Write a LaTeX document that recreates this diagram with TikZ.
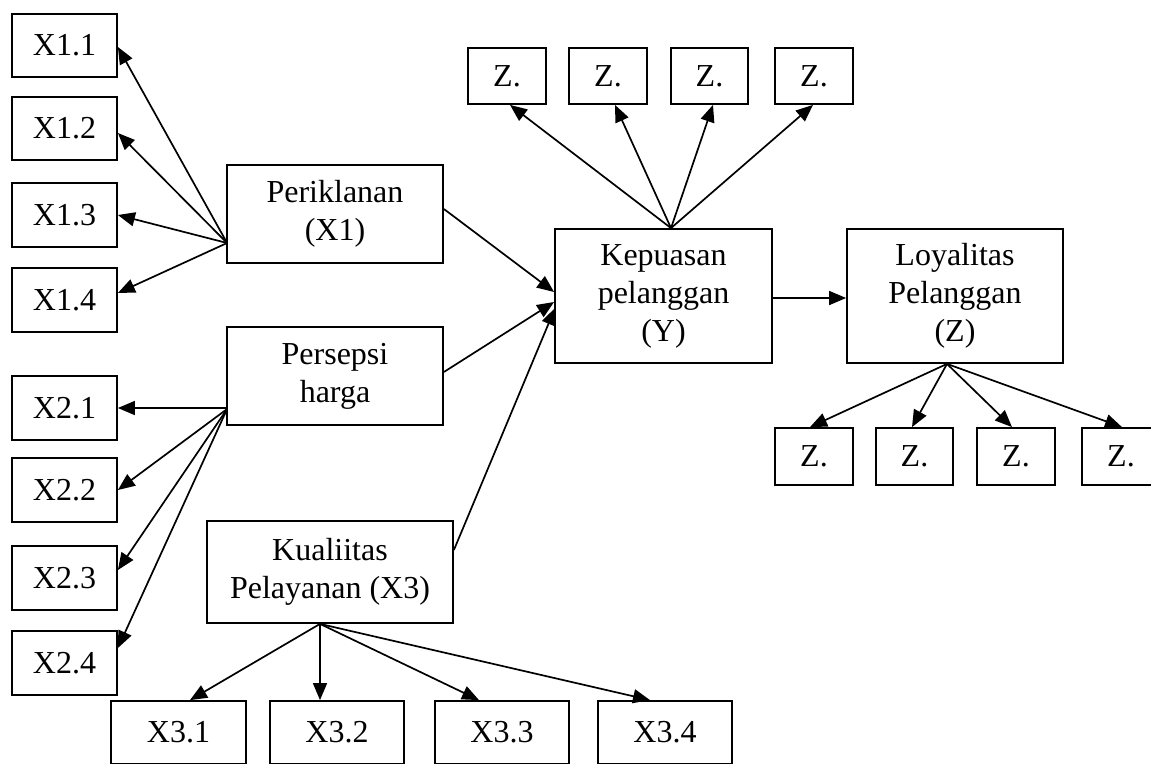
\documentclass[tikz,border=0pt]{standalone}
\usepackage{fontspec}
\setmainfont{Liberation Serif}
\usetikzlibrary{calc,arrows.meta}
\begin{document}
\begin{tikzpicture}[x=1pt,y=-1pt,
  box/.style={draw=black,line width=1.8pt,inner sep=0pt,align=center,font=\fontsize{32}{38}\selectfont},
  arr/.style={line width=1.7pt,-{Triangle[length=17pt,width=14pt]}}]
\useasboundingbox (0,0) rectangle (1151,763);
\clip (0,0) rectangle (1151,763);
\fill[white] (0,0) rectangle (1151,763);
% left X1 indicators
\node[box,minimum width=105pt,minimum height=63pt] (x11) at (64.5,45.5) {X1.1};
\node[box,minimum width=105pt,minimum height=63pt] (x12) at (64.5,128.5) {X1.2};
\node[box,minimum width=105pt,minimum height=64pt] (x13) at (64.5,215) {X1.3};
\node[box,minimum width=105pt,minimum height=64pt] (x14) at (64.5,300) {X1.4};
% X2 indicators
\node[box,minimum width=105pt,minimum height=64pt] (x21) at (64.5,408) {X2.1};
\node[box,minimum width=105pt,minimum height=64pt] (x22) at (64.5,490) {X2.2};
\node[box,minimum width=105pt,minimum height=64pt] (x23) at (64.5,578) {X2.3};
\node[box,minimum width=105pt,minimum height=64pt] (x24) at (64.5,663) {X2.4};
% latent variables
\node[box,minimum width=216pt,minimum height=98pt] (per) at (335,214) {Periklanan\\(X1)};
\node[box,minimum width=216pt,minimum height=98pt] (pers) at (335,376) {Persepsi\\harga};
\node[box,minimum width=246pt,minimum height=102pt] (kual) at (330,572) {Kualiitas\\Pelayanan (X3)};
\node[box,minimum width=217pt,minimum height=134pt] (kep) at (663.5,296) {Kepuasan\\pelanggan\\(Y)};
\node[box,minimum width=216pt,minimum height=134pt] (loy) at (955,296) {Loyalitas\\Pelanggan\\(Z)};
% X3 indicators
\node[box,minimum width=135pt,minimum height=63pt] (x31) at (178.5,732.5) {X3.1};
\node[box,minimum width=134pt,minimum height=63pt] (x32) at (337,732.5) {X3.2};
\node[box,minimum width=134pt,minimum height=63pt] (x33) at (502,732.5) {X3.3};
\node[box,minimum width=134pt,minimum height=63pt] (x34) at (665,732.5) {X3.4};
% Y indicators
\node[box,minimum width=78pt,minimum height=56pt] (zt1) at (507,76) {Z.};
\node[box,minimum width=78pt,minimum height=56pt] (zt2) at (608,76) {Z.};
\node[box,minimum width=77pt,minimum height=56pt] (zt3) at (709.5,76) {Z.};
\node[box,minimum width=78pt,minimum height=56pt] (zt4) at (814,76) {Z.};
% Z indicators
\node[box,minimum width=78pt,minimum height=57pt] (zb1) at (814,456.5) {Z.};
\node[box,minimum width=77pt,minimum height=57pt] (zb2) at (914.5,456.5) {Z.};
\node[box,minimum width=78pt,minimum height=57pt] (zb3) at (1016,456.5) {Z.};
\node[box,minimum width=78pt,minimum height=57pt] (zb4) at (1121,456.5) {Z.};
% fan X1
\coordinate (p1) at ($(per.west)+(1,29)$);
\draw[arr] (p1) -- ($(x11.east)+(0,1.5)$);
\draw[arr] (p1) -- ($(x12.east)+(0,4.5)$);
\draw[arr] (p1) -- (x13.east);
\draw[arr] (p1) -- ($(x14.east)+(0,-7)$);
% fan X2
\coordinate (p2) at ($(pers.west)+(1,32)$);
\coordinate (p2b) at ($(pers.west)+(1,33)$);
\draw[arr] (p2) -- (x21.east);
\draw[arr] (p2b) -- (x22.east);
\draw[arr] (p2b) -- ($(x23.east)+(0,-8)$);
\draw[arr] (p2b) -- ($(x24.east)+(0,-15)$);
% fan X3
\coordinate (p3) at ($(kual.south)+(-10,0)$);
\draw[arr] (p3) -- ($(x31.north)+(11.5,0)$);
\draw[arr] (p3) -- ($(x32.north)+(-17,0)$);
\draw[arr] (p3) -- ($(x33.north)+(-23,0)$);
\draw[arr] (p3) -- ($(x34.north)+(-15,0)$);
% structural paths
\draw[arr] ($(per.east)+(0,-5)$) -- ($(kep.west)+(0,-4)$);
\draw[arr] ($(pers.east)+(0,-4)$) -- ($(kep.west)+(0,6)$);
\draw[arr] ($(kual.east)+(0,-22)$) -- ($(kep.west)+(1,12)$);
\draw[arr] ($(kep.east)+(0,2)$) -- ($(loy.west)+(0,2)$);
% Y fan
\coordinate (p4) at ($(kep.north)+(7.5,0)$);
\draw[arr] (p4) -- ($(zt1.south)+(3,0)$);
\draw[arr] (p4) -- ($(zt2.south)+(7,0)$);
\draw[arr] (p4) -- ($(zt3.south)+(3.5,0)$);
\draw[arr] (p4) -- ($(zt4.south)+(-1,0)$);
% Z fan
\coordinate (p5) at ($(loy.south)+(-8,0)$);
\draw[arr] (p5) -- ($(zb1.north)+(-4,0)$);
\draw[arr] (p5) -- ($(zb2.north)+(-2.5,0)$);
\draw[arr] (p5) -- ($(zb3.north)+(-4,0)$);
\draw[arr] (p5) -- ($(zb4.north)+(1,0)$);
\end{tikzpicture}
\end{document}
